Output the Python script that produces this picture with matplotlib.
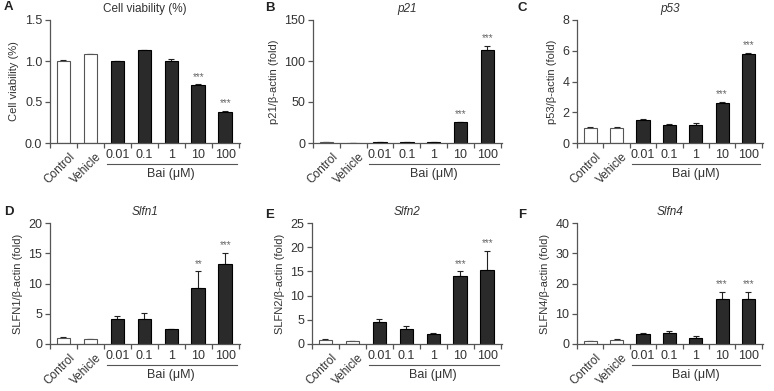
import numpy as np
import matplotlib
matplotlib.use("Agg")
import matplotlib.pyplot as plt
from matplotlib.transforms import blended_transform_factory

plt.rcParams["font.family"] = ["Liberation Sans", "DejaVu Sans"]

groups = ["Control", "Vehicle", "0.01", "0.1", "1", "10", "100"]

via_mean = [1.0, 1.08, 1.0, 1.13, 1.0, 0.71, 0.38]
via_err = [0.01, 0.01, 0.005, 0.01, 0.02, 0.005, 0.01]
via_sig = ["", "", "", "", "", "***", "***"]

p21_mean = [1.0, 0.0, 1.5, 1.0, 1.5, 25.5, 114.0]
p21_err = [0.1, 0.0, 0.2, 0.1, 0.2, 0.5, 4.0]
p21_sig = ["", "", "", "", "", "***", "***"]

p53_mean = [1.0, 1.0, 1.5, 1.2, 1.15, 2.63, 5.8]
p53_err = [0.03, 0.03, 0.03, 0.03, 0.12, 0.05, 0.05]
p53_sig = ["", "", "", "", "", "***", "***"]

s1_mean = [1.0, 0.8, 4.1, 4.1, 2.4, 9.2, 13.3]
s1_err = [0.1, 0.05, 0.55, 1.1, 0.15, 2.8, 1.7]
s1_sig = ["", "", "", "", "", "**", "***"]

s2_mean = [0.9, 0.6, 4.6, 3.2, 2.1, 14.0, 15.3]
s2_err = [0.2, 0.1, 0.5, 0.5, 0.15, 1.0, 3.9]
s2_sig = ["", "", "", "", "", "***", "***"]

s4_mean = [0.9, 1.4, 3.4, 3.5, 2.0, 15.0, 15.0]
s4_err = [0.1, 0.4, 0.2, 0.9, 0.6, 2.3, 2.3]
s4_sig = ["", "", "", "", "", "***", "***"]

W, H = 774, 391
fig = plt.figure(figsize=(W / 100, H / 100), dpi=100)

dark = "#2a2a2a"
axcol = "#555555"
txt = "#333333"


def panel(left, right, top, bottom, mean, err, sig, ymax, step, ylabel,
          title, italic, letter, letter_xy, fmt="{:g}"):
    ax = fig.add_axes([left / W, 1 - bottom / H, (right - left) / W, (bottom - top) / H])
    x = np.arange(len(groups))
    colors = ["white", "white"] + [dark] * 5
    edges = [axcol, axcol] + ["black"] * 5
    ax.bar(x, mean, width=0.5, color=colors, edgecolor=edges, linewidth=0.8, zorder=2)
    ax.errorbar(x, mean, yerr=[np.zeros(len(err)), err], fmt="none",
                ecolor="#222222", elinewidth=0.8, capsize=2.5, capthick=0.8, zorder=1)
    for xi, m, e, s in zip(x, mean, err, sig):
        if s:
            ax.annotate(s, (xi, m + e), xytext=(0, 2), textcoords="offset points",
                        ha="center", va="bottom", fontsize=7, color="#666666")
    ax.set_xlim(-0.5, 6.55)
    ax.set_ylim(0, ymax)
    yt = np.arange(0, ymax + step / 2, step)
    ax.set_yticks(yt)
    ax.set_yticklabels([fmt.format(v) for v in yt])
    ax.set_xticks(np.arange(-0.5, 7, 1.0))
    ax.set_xticklabels([])
    for sp in ["top", "right"]:
        ax.spines[sp].set_visible(False)
    for sp in ["left", "bottom"]:
        ax.spines[sp].set_color(axcol)
        ax.spines[sp].set_linewidth(0.9)
    ax.tick_params(axis="both", colors=axcol, labelcolor=txt, labelsize=9,
                   length=3.5, width=0.9, pad=2)
    ax.set_ylabel(ylabel, fontsize=8, color=txt, labelpad=4)
    ax.set_title(title, fontsize=8.5, color=txt, style="italic" if italic else "normal", pad=6)

    tr = blended_transform_factory(ax.transData, ax.transAxes)
    h = bottom - top
    for i, g in enumerate(groups):
        if i < 2:
            ax.text(i + 0.2, -8 / h, g, transform=tr, rotation=45, ha="right", va="top",
                    rotation_mode="anchor", fontsize=8.5, color=txt)
        else:
            ax.text(i, -12 / h, g, transform=tr, ha="center", va="center",
                    fontsize=9, color=txt)
    ax.plot([1.6, 6.45], [-21 / h, -21 / h], transform=tr, color=axcol,
            linewidth=0.8, clip_on=False)
    ax.text(4.0, -31 / h, "Bai (\u03bcM)", transform=tr, ha="center", va="center",
            fontsize=9, color=txt)
    fig.text(letter_xy[0] / W, 1 - letter_xy[1] / H, letter, fontsize=9.5,
             fontweight="bold", ha="left", va="center", color="#222222")
    return ax


panel(50, 240, 20, 143, via_mean, via_err, via_sig, 1.5, 0.5, "Cell viability (%)",
      "Cell viability (%)", False, "A", (4, 7), fmt="{:.1f}")
panel(313, 502, 20, 143, p21_mean, p21_err, p21_sig, 150, 50, "p21/\u03b2-actin (fold)",
      "p21", True, "B", (265, 8))
panel(577, 763, 20, 143, p53_mean, p53_err, p53_sig, 8, 2, "p53/\u03b2-actin (fold)",
      "p53", True, "C", (518, 8))
panel(50, 240, 223, 344, s1_mean, s1_err, s1_sig, 20, 5, "SLFN1/\u03b2-actin (fold)",
      "Slfn1", True, "D", (4, 212))
panel(312, 502, 223, 344, s2_mean, s2_err, s2_sig, 25, 5, "SLFN2/\u03b2-actin (fold)",
      "Slfn2", True, "E", (265, 215))
panel(577, 763, 223, 344, s4_mean, s4_err, s4_sig, 40, 10, "SLFN4/\u03b2-actin (fold)",
      "Slfn4", True, "F", (518, 215))

fig.savefig("out.png", dpi=100, facecolor="white")
